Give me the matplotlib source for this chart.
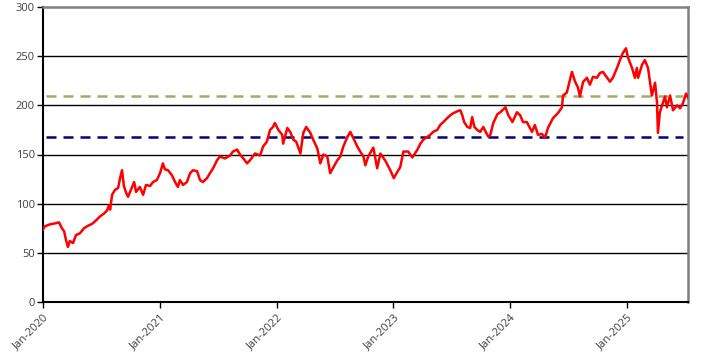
import matplotlib
matplotlib.use("Agg")
import matplotlib.pyplot as plt
import pandas as pd

dates = [
    "2020-01-01","2020-01-07","2020-01-23","2020-02-08","2020-02-20","2020-02-29","2020-03-07","2020-03-13",
    "2020-03-19","2020-03-25","2020-04-04","2020-04-13","2020-04-26","2020-05-08","2020-05-18","2020-06-05",
    "2020-06-18","2020-06-27","2020-07-10","2020-07-19","2020-07-25","2020-07-29","2020-08-04","2020-08-13",
    "2020-08-23","2020-08-29","2020-09-04","2020-09-10","2020-09-17","2020-09-23","2020-10-02","2020-10-12",
    "2020-10-18","2020-10-30","2020-11-09","2020-11-18","2020-12-01","2020-12-10","2020-12-22","2021-01-01",
    "2021-01-10","2021-01-16","2021-01-26","2021-02-07","2021-02-17","2021-02-26","2021-03-04","2021-03-14",
    "2021-03-26","2021-04-05","2021-04-14","2021-04-27","2021-05-06","2021-05-15","2021-05-28","2021-06-06",
    "2021-06-16","2021-06-28","2021-07-07","2021-07-23","2021-08-08","2021-08-17","2021-08-30","2021-09-08",
    "2021-09-21","2021-09-30","2021-10-09","2021-10-25","2021-11-10","2021-11-19","2021-12-01","2021-12-11",
    "2021-12-20","2021-12-26","2022-01-06","2022-01-18","2022-01-21","2022-02-03","2022-02-12","2022-02-22",
    "2022-03-03","2022-03-16","2022-03-25","2022-04-03","2022-04-16","2022-04-25","2022-05-08","2022-05-17",
    "2022-05-27","2022-06-08","2022-06-17","2022-06-27","2022-07-09","2022-07-19","2022-07-28","2022-08-10",
    "2022-08-19","2022-08-28","2022-09-10","2022-09-19","2022-09-29","2022-10-05","2022-10-14","2022-10-30",
    "2022-11-11","2022-11-21","2022-12-06","2022-12-22","2023-01-02","2023-01-16","2023-01-22","2023-02-01",
    "2023-02-16","2023-03-01","2023-03-17","2023-03-26","2023-04-04","2023-04-17","2023-04-26","2023-05-05",
    "2023-05-18","2023-05-27","2023-06-06","2023-06-18","2023-06-28","2023-07-07","2023-07-20","2023-07-29",
    "2023-08-04","2023-08-10","2023-08-20","2023-08-29","2023-09-04","2023-09-11","2023-09-20","2023-09-29",
    "2023-10-09","2023-10-18","2023-10-25","2023-10-31","2023-11-09","2023-11-22","2023-12-01","2023-12-17",
    "2023-12-26","2024-01-08","2024-01-22","2024-02-01","2024-02-10","2024-02-22","2024-03-09","2024-03-18",
    "2024-03-28","2024-04-09","2024-04-19","2024-04-28","2024-05-14","2024-05-29","2024-06-11","2024-06-14",
    "2024-06-26","2024-07-12","2024-07-22","2024-07-31","2024-08-06","2024-08-16","2024-08-28","2024-09-06",
    "2024-09-16","2024-09-28","2024-10-08","2024-10-17","2024-10-30","2024-11-08","2024-11-17","2024-11-30",
    "2024-12-09","2024-12-18","2024-12-28","2025-01-03","2025-01-16","2025-01-25","2025-01-31","2025-02-04",
    "2025-02-16","2025-02-25","2025-03-07","2025-03-13","2025-03-19","2025-03-29","2025-04-04","2025-04-07",
    "2025-04-13","2025-04-20","2025-04-29","2025-05-05","2025-05-15","2025-05-24","2025-06-06","2025-06-15",
    "2025-06-24","2025-07-04","2025-07-10",
]
values = [
    74, 77, 79, 80, 81, 75, 72, 63,
    56, 62, 60, 68, 70, 75, 77, 80,
    84, 87, 90, 93, 98, 94, 109, 114,
    116, 126, 134, 118, 111, 107, 114, 122,
    112, 117, 109, 119, 118, 122, 124, 131,
    141, 135, 134, 129, 122, 117, 124, 119,
    122, 131, 134, 133, 124, 122, 126, 131,
    136, 144, 148, 146, 149, 153, 155, 150,
    145, 141, 144, 151, 149, 158, 163, 175,
    178, 182, 175, 170, 161, 177, 173, 165,
    163, 151, 172, 178, 172, 165, 156, 141,
    150, 148, 131, 137, 144, 148, 158, 168,
    173, 167, 158, 153, 148, 139, 148, 157,
    136, 151, 144, 134, 126, 134, 137, 153,
    153, 147, 155, 161, 165, 168, 170, 173,
    175, 180, 183, 187, 190, 192, 194, 195,
    190, 183, 178, 177, 188, 178, 175, 173,
    178, 172, 168, 170, 182, 191, 193, 198,
    190, 183, 193, 190, 183, 183, 173, 180,
    170, 171, 167, 177, 187, 192, 198, 210,
    213, 234, 224, 218, 209, 224, 228, 221,
    229, 228, 233, 234, 228, 224, 228, 238,
    246, 253, 258, 249, 238, 228, 238, 228,
    241, 246, 238, 224, 210, 223, 203, 172,
    193, 200, 209, 198, 210, 195, 200, 197,
    202, 212, 208,
]
ref_high = 209.5
ref_low = 168
x_start = "2020-01-01"
x_end = "2025-07-10"
tick_years = [2020, 2021, 2022, 2023, 2024, 2025]
y_ticks = [0, 50, 100, 150, 200, 250, 300]

plt.rcParams['font.family'] = ['Open Sans', 'DejaVu Sans']

fig = plt.figure(figsize=(7.07, 3.61), dpi=100)
ax = fig.add_axes([43/707, 1-302/361, (688-43)/707, (302-7)/361])

d = pd.to_datetime(dates)
ax.set_xlim(pd.Timestamp(x_start), pd.Timestamp(x_end))
ax.set_ylim(0, 300)

for yv in y_ticks[1:-1]:
    ax.axhline(yv, color='black', lw=1.0, zorder=1)

ax.axhline(ref_high, xmin=0.005, xmax=0.993, color='#A3AD6B', lw=1.8, dashes=(4, 2.8), zorder=2)
ax.axhline(ref_low, xmin=0.005, xmax=0.993, color='#000080', lw=1.8, dashes=(4, 2.8), zorder=2)

ax.plot(d, values, color='#FF0000', lw=1.8, zorder=3)

ax.set_yticks(y_ticks)
ax.set_xticks([pd.Timestamp(f"{y}-01-01") for y in tick_years])
ax.set_xticklabels([f"Jan-{y}" for y in tick_years], rotation=45, ha='right', rotation_mode='anchor')
ax.tick_params(axis='both', labelsize=8, colors='#404040', length=4, width=1)
ax.tick_params(axis='x', color='black', pad=3)
ax.tick_params(axis='y', color='black', pad=2)

ax.spines['left'].set_color('black')
ax.spines['left'].set_linewidth(1.5)
ax.spines['bottom'].set_color('black')
ax.spines['bottom'].set_linewidth(1.5)
ax.spines['top'].set_color('#808080')
ax.spines['top'].set_linewidth(1.8)
ax.spines['right'].set_color('#808080')
ax.spines['right'].set_linewidth(1.8)

fig.savefig("out.png", dpi=100)
